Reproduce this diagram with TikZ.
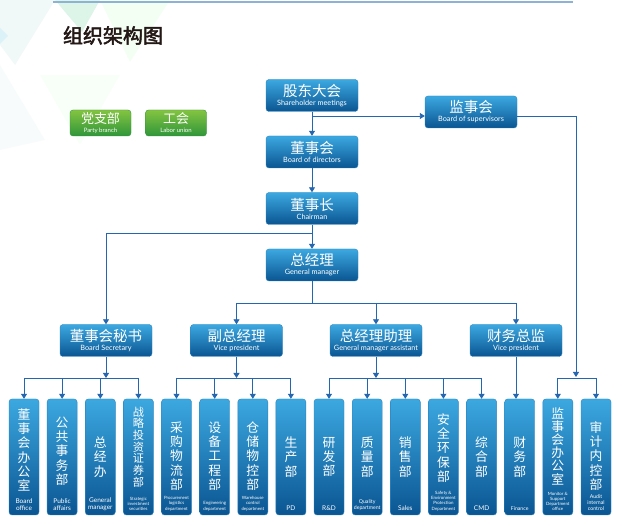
\documentclass[tikz,border=0pt]{standalone}
\usepackage{fontspec}
\setmainfont{Lato}
\newfontfamily\cjk{Noto Sans CJK SC}
\newfontfamily\cjkb[FakeBold=2.5]{Noto Sans CJK SC}
\usetikzlibrary{arrows.meta}
\definecolor{boxtop}{HTML}{3CA8E0}
\definecolor{boxbot}{HTML}{0A5592}
\definecolor{boxedge}{HTML}{2C86C4}
\definecolor{gtop}{HTML}{84C441}
\definecolor{gbot}{HTML}{2F963A}
\definecolor{linec}{HTML}{2466B0}
\definecolor{topline}{HTML}{8DB2D6}
\definecolor{titlec}{HTML}{231815}
\newcommand\cnA{\cjk\fontsize{12.8}{14.3}\selectfont}
\newcommand\cnB{\cjk\fontsize{11.2}{11.7}\selectfont}
\newcommand\cnC{\cjk\fontsize{12.8}{13.2}\selectfont}
\newcommand\enA{\fontsize{6.5}{7.5}\selectfont}
\newcommand\enB{\fontsize{5.2}{6}\selectfont}
\newcommand\enC{\fontsize{4.4}{5.2}\selectfont}
\newcommand\twol[2]{{\cjk\fontsize{14.5}{16}\selectfont #1}\\[-3pt]{\fontsize{7.3}{8}\selectfont #2}}
\newcommand\twog[2]{{\cjk\fontsize{13}{14}\selectfont #1}\\[-3pt]{\fontsize{6}{7}\selectfont #2}}
\newcommand\vb[7]{%
  \node[vbox] (#1) at (#2,457) {};
  \node[cnv, font=#4] (#1c) at (#2,#3) {#5};
  \node[env, font=#6] (#1e) at (#2,511) {#7};
}
\tikzset{
  hbox/.style={rounded corners=3pt, top color=boxtop, bottom color=boxbot, draw=boxedge, line width=0.4pt, minimum width=92pt, minimum height=32pt, inner sep=0pt, text=white, align=center},
  gbox/.style={hbox, top color=gtop, bottom color=gbot, draw=gbot, minimum width=61pt, minimum height=26pt},
  vbox/.style={rounded corners=3pt, top color=boxtop, bottom color=boxbot, draw=boxedge, line width=0.4pt, minimum width=30pt, minimum height=116pt, inner sep=0pt},
  conn/.style={draw=linec, line width=0.9pt},
  arr/.style={conn, -{Triangle[width=6pt,length=5pt]}},
  cnv/.style={text=white, align=center, inner sep=0pt},
  env/.style={text=white, align=center, inner sep=0pt, anchor=south},
}
\begin{document}
\begin{tikzpicture}[x=1pt,y=-1pt]
\useasboundingbox (0,0) rectangle (622,526);
\fill[white] (0,0) rectangle (622,526);
% background decoration
\fill[teal!10, opacity=0.5] (0,0) -- (55,0) -- (15,65) -- (0,45) -- cycle;
\fill[green!35!teal!22, opacity=0.6] (55,0) -- (100,0) -- (82,32) -- cycle;
\fill[green!12, opacity=0.35] (100,0) -- (170,0) -- (130,62) -- cycle;
\fill[cyan!22, opacity=0.5] (0,28) -- (8,36) -- (0,44) -- cycle;
\fill[teal!5, opacity=0.5] (0,65) -- (45,140) -- (0,150) -- cycle;
\fill[green!5, opacity=0.5] (40,75) -- (120,75) -- (80,145) -- cycle;
\draw[topline, line width=1.2pt] (53,2) -- (573,2);
% title
\node[text=titlec, inner sep=0pt, font=\cjkb\fontsize{20}{22}\selectfont] (title) at (113,35.5) {组织架构图};
% green boxes
\node[gbox] (party) at (100.5,123) {\twog{党支部}{Party branch}};
\node[gbox] (union) at (176,123) {\twog{工会}{Labor union}};
% top chain
\node[hbox] (sh) at (312,95.5) {\twol{股东大会}{Shareholder meetings}};
\node[hbox] (bd) at (312,152) {\twol{董事会}{Board of directors}};
\node[hbox] (ch) at (312,208.5) {\twol{董事长}{Chairman}};
\node[hbox] (gm) at (312,265) {\twol{总经理}{General manager}};
\node[hbox] (sup) at (471,112) {\twol{监事会}{Board of supervisors}};
% middle row
\node[hbox] (sec) at (106,340.5) {\twol{董事会秘书}{Board Secretary}};
\node[hbox] (vp) at (236.5,340.5) {\twol{副总经理}{Vice president}};
\node[hbox] (gma) at (376,340.5) {\twol{总经理助理}{General manager assistant}};
\node[hbox] (cfo) at (516,340.5) {\twol{财务总监}{Vice president}};
% bottom row
\vb{b1}{24}{450}{\cnA}{董\\事\\会\\办\\公\\室}{\enA}{Board\\office}
\vb{b2}{62.1}{451}{\cnA}{公\\共\\事\\务\\部}{\enA}{Public\\affairs}
\vb{b3}{100.3}{457}{\cnA}{总\\经\\办}{\enA}{General\\manager}
\vb{b4}{138.4}{447}{\cnB}{战\\略\\投\\资\\证\\券\\部}{\enC}{Strategic\\investment\\securities}
\vb{b5}{176.5}{456}{\cnA}{采\\购\\物\\流\\部}{\enC}{Procurement\\logistics\\department}
\vb{b6}{214.7}{456}{\cnA}{设\\备\\工\\程\\部}{\enC}{Engineering\\department}
\vb{b7}{252.8}{456}{\cnA}{仓\\储\\物\\控\\部}{\enC}{Warehouse\\control\\department}
\vb{b8}{290.9}{457}{\cnA}{生\\产\\部}{\enA}{PD}
\vb{b9}{329}{457}{\cnA}{研\\发\\部}{\enA}{R\&D}
\vb{b10}{367.2}{457}{\cnA}{质\\量\\部}{\enB}{Quality\\department}
\vb{b11}{405.3}{457}{\cnA}{销\\售\\部}{\enA}{Sales}
\vb{b12}{443.4}{448}{\cnA}{安\\全\\环\\保\\部}{\enC}{Safety \&\\Environment\\Protection\\Department}
\vb{b13}{481.6}{457}{\cnA}{综\\合\\部}{\enA}{CMD}
\vb{b14}{519.7}{457}{\cnA}{财\\务\\部}{\enB}{Finance}
\vb{b15}{557.8}{446}{\cnC}{监\\事\\会\\办\\公\\室}{\enC}{Monitor \&\\Support\\Department\\office}
\vb{b16}{596}{456}{\cnA}{审\\计\\内\\控\\部}{\enB}{Audit\\internal\\control}
% connectors
\coordinate (j1) at (312,116);
\coordinate (j2) at (576,116);
\coordinate (j3) at (576,377);
\coordinate (j4) at (312,233);
\coordinate (j5) at (312,303);
\coordinate (row) at (0,378);
\draw[arr] (sh.south) -- (bd.north);
\draw[arr] (j1) -- (j1 -| sup.west);
\draw[conn] (sup.east |- j1) -- (j2);
\draw[arr] (j2) -- (j3);
\draw[arr] (bd.south) -- (ch.north);
\draw[arr] (ch.south) -- (gm.north);
\draw[arr] (j4) -| (sec.north);
\draw[conn] (gm.south) -- (j5);
\draw[conn] (vp.north |- j5) -- (cfo.north |- j5);
\foreach \n in {vp,gma,cfo} \draw[arr] (\n.north |- j5) -- (\n.north);
\draw[arr] (sec.south) -- (sec.south |- row);
\draw[arr] (vp.south) -- (vp.south |- row);
\draw[arr] (gma.south) -- (gma.south |- row);
\draw[conn] (b1.north |- row) -- (b4.north |- row);
\draw[conn] (b5.north |- row) -- (b8.north |- row);
\draw[conn] (b9.north |- row) -- (b13.north |- row);
\draw[conn] (b15.north |- row) -- (b16.north |- row);
\foreach \b in {b1,b2,b3,b4,b5,b6,b7,b8,b9,b10,b11,b12,b13,b15,b16}
  \draw[arr] (\b.north |- row) -- (\b.north);
\draw[arr] (cfo.south) -- (cfo.south |- b14.north);
\end{tikzpicture}
\end{document}
